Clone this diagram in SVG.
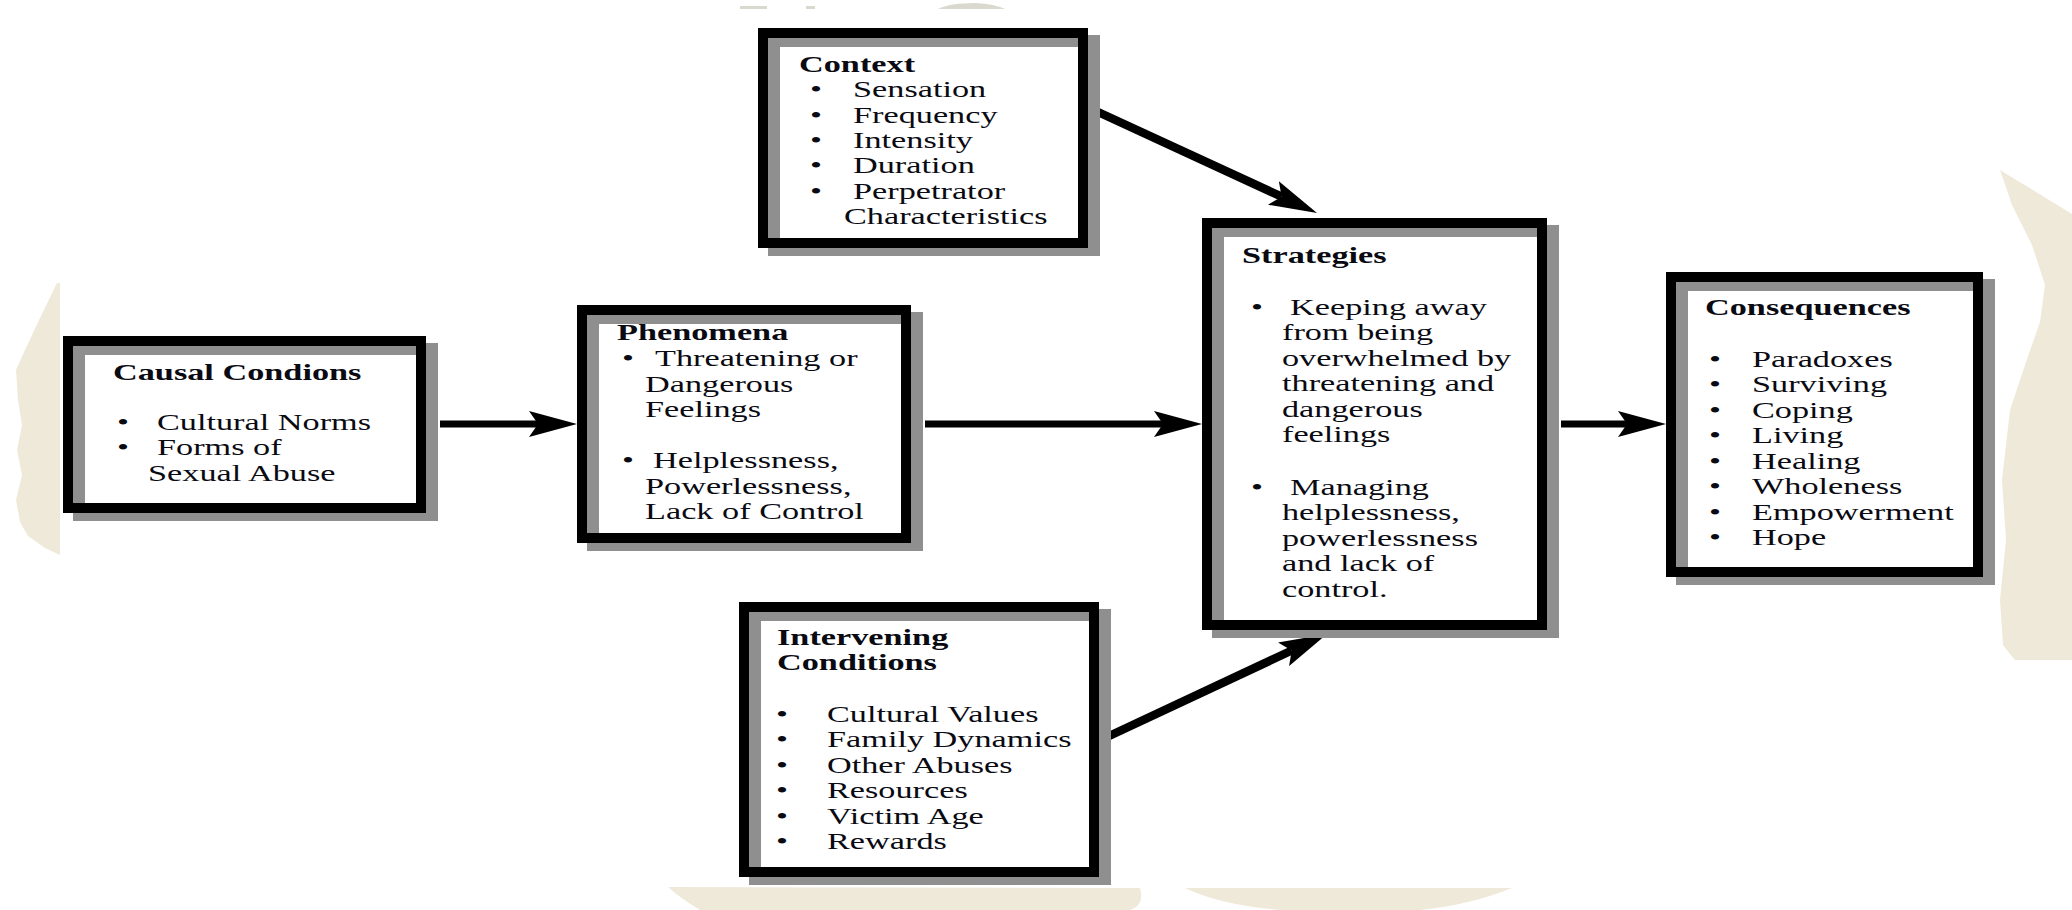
<svg xmlns="http://www.w3.org/2000/svg" width="2072" height="910" viewBox="0 0 2072 910">
<defs>
<style>
.paper{fill:#efe9da;stroke:none}
.shadow{fill:#ffffff;stroke:#8f8f8f;stroke-width:12}
.frame{fill:none;stroke:#000000;stroke-width:10}
.t{font-family:"Liberation Serif","Times New Roman",serif;font-size:23px;fill:#0a0a12}
.b{font-weight:bold}
.conn{stroke:#000000;stroke-width:7;fill:none;marker-end:url(#ah)}
.diag{stroke-width:8.5}
</style>
<marker id="ah" viewBox="0 0 48 26" refX="9" refY="13" markerWidth="48" markerHeight="26" markerUnits="userSpaceOnUse" orient="auto">
<path d="M0,0 L48,13 L0,26 L9,13 Z" fill="#000000"/>
</marker>
</defs>
<rect x="0" y="0" width="2072" height="910" fill="#ffffff"/>
<g id="paper">
<path class="paper" d="M57,283 L60,283 L60,555 L45,548 L28,536 L20,522 L16,500 L22,475 L17,450 L22,425 L18,400 L16,370 L25,350 L40,318 Z"/>
<path class="paper" d="M2000,170 L2072,214 L2072,660 L2015,660 L2003,645 L2000,600 L2006,540 L2002,480 L2010,410 L2025,365 L2040,322 L2045,285 L2032,245 L2012,205 Z"/>
<path class="paper" d="M668,887 L1140,888 Q1145,905 1130,910 L700,910 Q680,898 668,887 Z"/>
<path class="paper" d="M1185,888 L1512,888 Q1470,905 1420,910 L1280,910 Q1220,905 1185,888 Z"/>
<path d="M740,6 L767,6 L767,9 L740,9 Z M806,6 L815,6 L815,9 L806,9 Z M938,9 Q950,3 975,3 Q995,4 1005,9 Z" fill="#d9d9cf"/>
</g>
<g id="connectors">
<line class="conn" x1="440" y1="424" x2="538" y2="424"/>
<line class="conn" x1="925" y1="424" x2="1163" y2="424"/>
<line class="conn" x1="1561" y1="424" x2="1627" y2="424"/>
<line class="conn diag" x1="1098" y1="112" x2="1281.6" y2="196.7"/>
<line class="conn diag" x1="1107" y1="737" x2="1291.7" y2="650.5"/>
</g>
<g id="causal">
<rect class="shadow" x="79" y="349" width="353" height="166"/>
<rect class="frame" x="68" y="341" width="353" height="167"/>
<g transform="scale(1.49,1)">
<text class="t b" x="75.84" y="380">Causal Condions</text>
<text class="t" x="78.52" y="430">•</text><text class="t" x="105.37" y="430">Cultural Norms</text>
<text class="t" x="78.52" y="455">•</text><text class="t" x="105.37" y="455">Forms of</text>
<text class="t" x="99.33" y="481">Sexual Abuse</text>
</g>
</g>
<g id="phenomena">
<rect class="shadow" x="593" y="318" width="324" height="227"/>
<rect class="frame" x="582" y="310" width="324" height="228"/>
<g transform="scale(1.49,1)">
<text class="t b" x="414.09" y="340">Phenomena</text>
<text class="t" x="417.45" y="366">•</text><text class="t" x="439.60" y="366">Threatening or</text>
<text class="t" x="432.89" y="392">Dangerous</text>
<text class="t" x="432.89" y="417">Feelings</text>
<text class="t" x="417.45" y="468">•</text><text class="t" x="438.26" y="468">Helplessness,</text>
<text class="t" x="432.89" y="494">Powerlessness,</text>
<text class="t" x="432.89" y="519">Lack of Control</text>
</g>
</g>
<g id="context">
<rect class="shadow" x="774" y="41" width="320" height="209"/>
<rect class="frame" x="763" y="33" width="320" height="210"/>
<g transform="scale(1.49,1)">
<text class="t b" x="536.24" y="72">Context</text>
<text class="t" x="543.62" y="97">•</text><text class="t" x="572.48" y="97">Sensation</text>
<text class="t" x="543.62" y="122.5">•</text><text class="t" x="572.48" y="122.5">Frequency</text>
<text class="t" x="543.62" y="148">•</text><text class="t" x="572.48" y="148">Intensity</text>
<text class="t" x="543.62" y="173.5">•</text><text class="t" x="572.48" y="173.5">Duration</text>
<text class="t" x="543.62" y="199">•</text><text class="t" x="572.48" y="199">Perpetrator</text>
<text class="t" x="566.44" y="224.5">Characteristics</text>
</g>
</g>
<g id="strategies">
<rect class="shadow" x="1218" y="231" width="335" height="401"/>
<rect class="frame" x="1207" y="223" width="335" height="402"/>
<g transform="scale(1.49,1)">
<text class="t b" x="833.56" y="263">Strategies</text>
<text class="t" x="839.60" y="315">•</text><text class="t" x="865.77" y="315">Keeping away</text>
<text class="t" x="860.40" y="340.5">from being</text>
<text class="t" x="860.40" y="366">overwhelmed by</text>
<text class="t" x="860.40" y="391.5">threatening and</text>
<text class="t" x="860.40" y="417">dangerous</text>
<text class="t" x="860.40" y="442.5">feelings</text>
<text class="t" x="839.60" y="495">•</text><text class="t" x="865.77" y="495">Managing</text>
<text class="t" x="860.40" y="520.5">helplessness,</text>
<text class="t" x="860.40" y="546">powerlessness</text>
<text class="t" x="860.40" y="571.5">and lack of</text>
<text class="t" x="860.40" y="597">control.</text>
</g>
</g>
<g id="consequences">
<rect class="shadow" x="1682" y="285" width="307" height="294"/>
<rect class="frame" x="1671" y="277" width="307" height="295"/>
<g transform="scale(1.49,1)">
<text class="t b" x="1144.30" y="315">Consequences</text>
<text class="t" x="1146.98" y="367">•</text><text class="t" x="1175.84" y="367">Paradoxes</text>
<text class="t" x="1146.98" y="392.5">•</text><text class="t" x="1175.84" y="392.5">Surviving</text>
<text class="t" x="1146.98" y="418">•</text><text class="t" x="1175.84" y="418">Coping</text>
<text class="t" x="1146.98" y="443.5">•</text><text class="t" x="1175.84" y="443.5">Living</text>
<text class="t" x="1146.98" y="469">•</text><text class="t" x="1175.84" y="469">Healing</text>
<text class="t" x="1146.98" y="494.5">•</text><text class="t" x="1175.84" y="494.5">Wholeness</text>
<text class="t" x="1146.98" y="520">•</text><text class="t" x="1175.84" y="520">Empowerment</text>
<text class="t" x="1146.98" y="545.5">•</text><text class="t" x="1175.84" y="545.5">Hope</text>
</g>
</g>
<g id="intervening">
<rect class="shadow" x="755" y="615" width="350" height="264"/>
<rect class="frame" x="744" y="607" width="350" height="265"/>
<g transform="scale(1.49,1)">
<text class="t b" x="521.48" y="645">Intervening</text>
<text class="t b" x="521.48" y="670">Conditions</text>
<text class="t" x="520.81" y="722">•</text><text class="t" x="555.03" y="722">Cultural Values</text>
<text class="t" x="520.81" y="747.5">•</text><text class="t" x="555.03" y="747.5">Family Dynamics</text>
<text class="t" x="520.81" y="773">•</text><text class="t" x="555.03" y="773">Other Abuses</text>
<text class="t" x="520.81" y="798.5">•</text><text class="t" x="555.03" y="798.5">Resources</text>
<text class="t" x="520.81" y="824">•</text><text class="t" x="555.03" y="824">Victim Age</text>
<text class="t" x="520.81" y="849">•</text><text class="t" x="555.03" y="849">Rewards</text>
</g>
</g>
</svg>
